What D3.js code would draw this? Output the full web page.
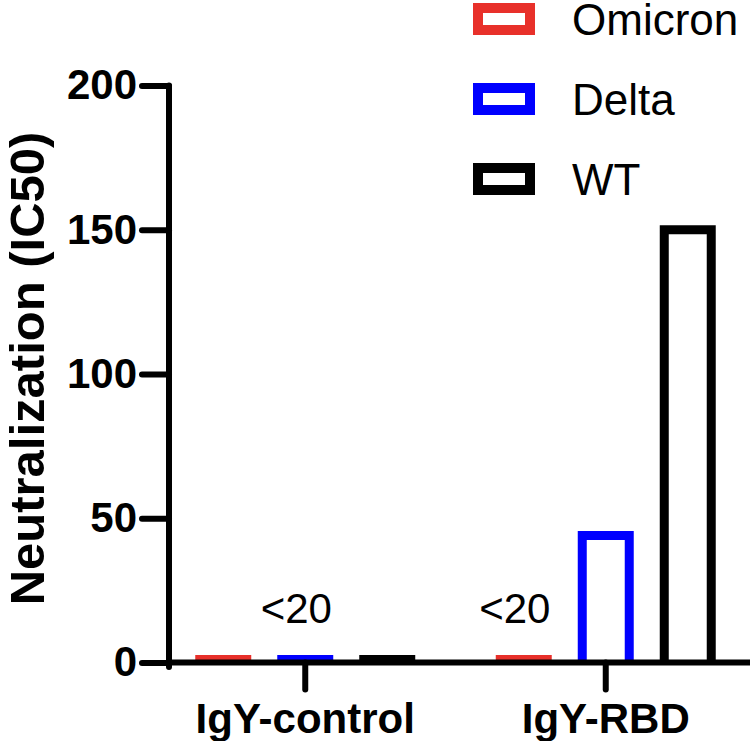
<!DOCTYPE html>
<html>
<head>
<meta charset="utf-8">
<script src="https://cdn.jsdelivr.net/npm/d3@7"></script>
<style>
  html, body { margin: 0; padding: 0; background: #fff; }
  svg { display: block; }
  text { font-family: "Liberation Sans", Arial, sans-serif; fill: #000; }
</style>
</head>
<body>
<svg id="chart" width="750" height="741"></svg>
<script>
// ---- data ----
const groups = ["IgY-control", "IgY-RBD"];
const series = ["Omicron", "Delta", "WT"];
const colors = ["#e8302a", "#0000ff", "#000000"];
const omicronValues = [1, 1];
const deltaValues = [1, 44];
const wtValues = [1, 150];
const yTicks = [0, 50, 100, 150, 200];
const annotations = [
  { group: "IgY-control", series: "Delta", text: "<20" },
  { group: "IgY-RBD", series: "Omicron", text: "<20" }
];

const valuesBySeries = [omicronValues, deltaValues, wtValues];
const rows = [];
groups.forEach((g, gi) => {
  series.forEach((s, si) => rows.push({ group: g, series: s, value: valuesBySeries[si][gi], color: colors[si] }));
});

const svg = d3.select("#chart");

const y = d3.scaleLinear().domain([0, 200]).range([662.5, 85.5]);
const x = d3.scaleBand().domain(groups).range([155, 756]).paddingInner(0).paddingOuter(0);
const xs = d3.scaleBand().domain(series).range([-123, 123]).paddingInner(0.427).paddingOuter(0.2135);

// ---- bars (open-bottom outlines) ----
svg.append("g").selectAll("path")
  .data(rows)
  .join("path")
  .attr("d", d => {
    const c = x(d.group) + x.bandwidth() / 2;
    const x0 = c + xs(d.series), x1 = x0 + xs.bandwidth();
    return `M${x0},${y(0)}V${y(d.value)}H${x1}V${y(0)}`;
  })
  .attr("fill", "#fff")
  .attr("stroke", d => d.color)
  .attr("stroke-width", 9)
  .attr("stroke-linejoin", "miter");

// ---- annotations ----
svg.append("g").selectAll("text")
  .data(annotations)
  .join("text")
  .attr("x", d => x(d.group) + x.bandwidth() / 2 + xs(d.series) + xs.bandwidth() / 2 - 9)
  .attr("y", 623)
  .attr("text-anchor", "middle")
  .attr("font-size", 42)
  .text(d => d.text);

// ---- y axis ----
const yAxis = svg.append("g")
  .attr("transform", "translate(169,0)")
  .call(d3.axisLeft(y).tickValues(yTicks).tickSize(27).tickSizeOuter(0).tickPadding(5).tickFormat(d3.format("d")));
yAxis.select(".domain").attr("d", `M0,${y(200)}V667`).attr("stroke", "#000").attr("stroke-width", 6).attr("stroke-linecap", "round");
yAxis.selectAll(".tick line").attr("stroke", "#000").attr("stroke-width", 6).attr("stroke-linecap", "round");
yAxis.selectAll(".tick text").attr("font-size", 42).attr("font-weight", "bold")
  .attr("font-family", "Liberation Sans, Arial, sans-serif");

// ---- x axis ----
const xAxis = svg.append("g")
  .attr("transform", `translate(0,${y(0)})`)
  .call(d3.axisBottom(x).tickSize(27).tickSizeOuter(0));
xAxis.select(".domain").attr("d", "M169,0H750").attr("stroke", "#000").attr("stroke-width", 6);
xAxis.selectAll(".tick line").attr("stroke", "#000").attr("stroke-width", 6).attr("stroke-linecap", "round");
xAxis.selectAll(".tick text").attr("y", 70.5).attr("dy", null)
  .attr("font-size", 42).attr("font-weight", "bold")
  .attr("font-family", "Liberation Sans, Arial, sans-serif");

// ---- y axis title ----
svg.append("text")
  .attr("transform", "translate(44,368.5) rotate(-90)")
  .attr("text-anchor", "middle")
  .attr("font-size", 49)
  .attr("font-weight", "bold")
  .text("Neutralization (IC50)");

// ---- legend ----
const legend = svg.append("g").selectAll("g")
  .data(series)
  .join("g")
  .attr("transform", (d, i) => `translate(0,${i * 80})`);
legend.append("rect")
  .attr("x", 478).attr("y", 8).attr("width", 52).attr("height", 22)
  .attr("fill", "#fff")
  .attr("stroke", (d, i) => colors[i])
  .attr("stroke-width", 10);
legend.append("text")
  .attr("x", 572).attr("y", 35)
  .attr("font-size", 44)
  .text(d => d);
</script>
</body>
</html>
